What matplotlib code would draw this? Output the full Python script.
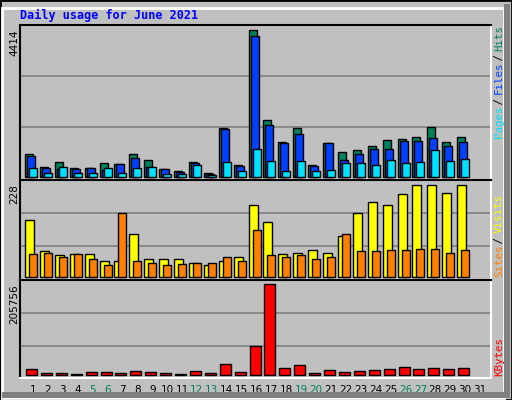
import numpy as np
import matplotlib.pyplot as plt
from matplotlib.patches import Rectangle

days = np.arange(1, 32)
hits = [671, 280, 430, 250, 250, 400, 370, 670, 490, 220, 160, 430, 100, 1461, 340, 4414,
        1690, 1030, 1450, 340, 1000, 730, 790, 910, 1090, 1120, 1180, 1480, 1030, 1180, 0]
files = [611, 250, 220, 220, 250, 190, 370, 550, 280, 220, 130, 400, 70, 1431, 310, 4213,
         1540, 1000, 1270, 310, 1000, 490, 670, 820, 820, 1060, 1060, 1150, 910, 1030, 0]
pages = [250, 100, 280, 100, 100, 250, 100, 250, 280, 70, 70, 340, 40, 430, 160, 820,
         460, 160, 460, 160, 190, 400, 400, 340, 490, 400, 430, 790, 460, 520, 0]
visits = [140, 63, 53, 55, 55, 40, 40, 107, 45, 45, 43, 33, 28, 40, 50, 177,
          135, 55, 58, 65, 58, 102, 157, 184, 177, 204, 226, 228, 207, 226, 0]
sites = [55, 58, 48, 55, 43, 28, 159, 40, 33, 28, 31, 33, 33, 48, 38, 115,
         53, 48, 53, 45, 50, 107, 63, 63, 65, 65, 68, 68, 58, 65, 0]
kbytes = [14300, 5300, 5300, 2300, 7500, 7500, 5300, 9800, 7500, 5300, 2300, 9800, 5300, 25500, 7500, 66100,
          205756, 16500, 23300, 5300, 12000, 7500, 9800, 12000, 14300, 18800, 14300, 16500, 14300, 16500, 0]
weekend = [5, 6, 12, 13, 19, 20, 26, 27]

BG = '#c0c0c0'
W, H = 512, 400
fig = plt.figure(figsize=(W / 100, H / 100), dpi=100, facecolor=BG)

# outer frame
fig.patches.append(Rectangle((0, 0), 1, 1, transform=fig.transFigure, fill=False, ec='black', lw=2))
fig.patches.append(Rectangle((2 / W, 2 / H), 1 - 10 / W, 1 - 10 / H, transform=fig.transFigure,
                             fill=False, ec='white', lw=2))
fig.patches.append(Rectangle(((W - 8) / W, 2 / H), 6 / W, 1 - 6 / H,
                             transform=fig.transFigure, fc='#808080', ec='none'))
fig.patches.append(Rectangle((2 / W, 2 / H), 1 - 4 / W, 6 / H, transform=fig.transFigure, fc='#808080', ec='none'))


def panel(top, bottom):
    ax = fig.add_axes([20 / W, (H - bottom) / H, 471 / W, (bottom - top) / H])
    ax.set_facecolor(BG)
    ax.set_xlim(0.262, 31.87)
    ax.set_xticks([])
    ax.set_yticks([])
    for s in ['left', 'top']:
        ax.spines[s].set_color('black')
    for s in ['right', 'bottom']:
        ax.spines[s].set_color('white')
    for s in ax.spines.values():
        s.set_linewidth(1.5)
    return ax


def bars(ax, vals, shift, width, color):
    d = [x for x, v in zip(days, vals) if v > 0]
    v = [v for v in vals if v > 0]
    ax.bar(np.array(d) + shift, v, width, color=color, edgecolor='black', linewidth=1)


u = 1 / 14.9  # one pixel in day units

ax1 = panel(25, 180)
ax1.set_ylim(-99, 4555)
for g in [1492, 3024]:
    ax1.axhline(g, color='#808080', lw=1.2, zorder=0)
bars(ax1, hits, -2 * u, 8 * u, '#00805c')
bars(ax1, files, 0, 8 * u, '#0040ff')
bars(ax1, pages, 2 * u, 8 * u, '#00e0ff')

ax2 = panel(180, 280)
ax2.set_ylim(-8.2, 239.6)
for g in [75, 157]:
    ax2.axhline(g, color='#808080', lw=1.2, zorder=0)
bars(ax2, visits, -1.5 * u, 9 * u, '#ffff00')
bars(ax2, sites, 2 * u, 8 * u, '#ff8000')

ax3 = panel(280, 378)
ax3.set_ylim(-6750, 215400)
for g in [66900, 140500]:
    ax3.axhline(g, color='#808080', lw=1.2, zorder=0)
bars(ax3, kbytes, 0.5 * u, 11 * u, '#ff0000')

ax3.set_xticks(days + 2 * u)
ax3.set_xticklabels([str(d) for d in days], fontsize=7.5, family='DejaVu Sans')
ax3.tick_params(axis='x', length=0, pad=5)
for lbl, d in zip(ax3.get_xticklabels(), days):
    lbl.set_color('#00805c' if d in weekend else 'black')

fig.text(20 / W, 1 - 15 / H, 'Daily usage for June 2021', color='#0000ff', family='DejaVu Sans Mono',
         weight='bold', fontsize=8.5, va='center', ha='left')

# max values on the left
for txt, y in [('4414', 30), ('228', 184), ('205756', 284)]:
    fig.text(14 / W, 1 - y / H, txt, rotation=90, fontsize=7.5, va='top', ha='center', family='DejaVu Sans')


def side_label(parts, y_bottom):
    y = y_bottom
    for txt, col in parts:
        fig.text(499 / W, 1 - y / H, txt, rotation=90, color=col, family='DejaVu Sans Mono',
                 fontsize=7.8, va='bottom', ha='center')
        y -= len(txt) * 5.45


side_label([('Pages', '#00e0ff'), (' / ', 'black'), ('Files', '#0040ff'), (' / ', 'black'),
            ('Hits', '#00805c')], 138)
side_label([('Sites', '#ff8000'), (' / ', 'black'), ('Visits', '#ffff00')], 277)
side_label([('KBytes', '#ff0000')], 376)

fig.savefig('out.png', dpi=100, facecolor=BG)
